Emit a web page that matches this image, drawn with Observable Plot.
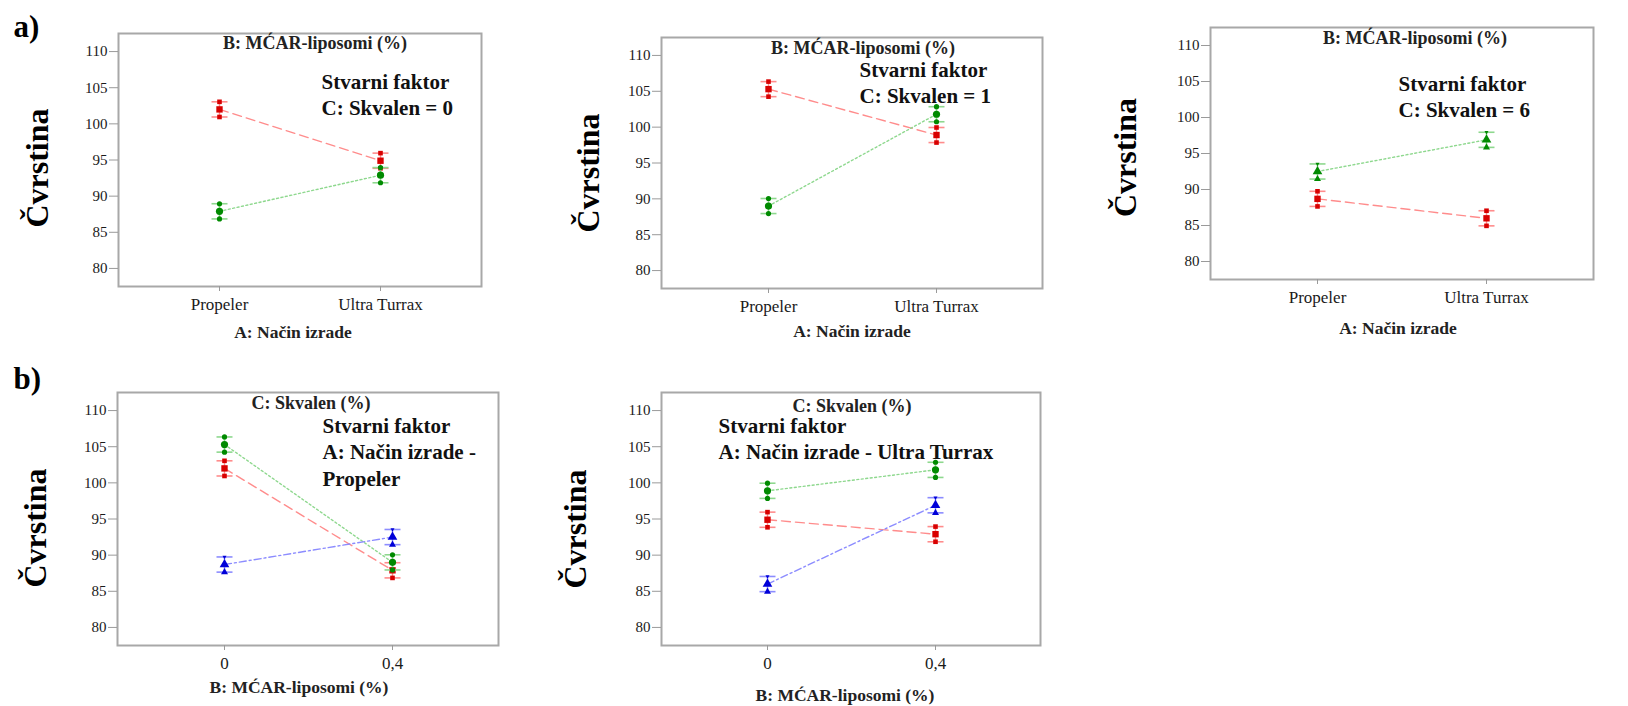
<!DOCTYPE html>
<html>
<head>
<meta charset="utf-8">
<script src="https://cdn.jsdelivr.net/npm/d3@7"></script>
<script src="https://cdn.jsdelivr.net/npm/@observablehq/plot@0.6"></script>
<style>
  html, body { margin: 0; padding: 0; background: #fff; }
  #root { position: relative; width: 1628px; height: 706px; overflow: hidden; background: #fff; }
  #root svg { position: absolute; overflow: visible; max-width: none; }
  #root svg, #root svg text { font-family: "Liberation Serif", "Times New Roman", Times, serif; }
</style>
</head>
<body>
<div id="root"></div>
<script>
// ---------- data ----------
const yTicks = [80, 85, 90, 95, 100, 105, 110];
const methodLabels = ["Propeler", "Ultra Turrax"];
const liposomeLabels = ["0", "0,4"];
const lsdHalf = 1.05;

// a) lines = B: MĆAR-liposomi 0 % (red) and 0,4 % (green), x = A: Način izrade
const a_C0_red   = [102.0, 94.9];
const a_C0_green = [87.9, 92.9];
const a_C1_red   = [105.3, 98.9];
const a_C1_green = [89.0, 101.8];
const a_C6_red   = [88.7, 86.0];
const a_C6_green = [92.5, 96.9];

// b) lines = C: Skvalen 0 (red), 1 (green), 6 (blue), x = B: MĆAR-liposomi
const b_Prop_red   = [102.0, 87.9];
const b_Prop_green = [105.3, 89.0];
const b_Prop_blue  = [88.7, 92.5];
const b_UT_red     = [94.9, 92.9];
const b_UT_green   = [98.9, 101.8];
const b_UT_blue    = [86.0, 96.9];

// ---------- styles ----------
const RED   = {dark: "#d80000", light: "#ff8c8c", dash: "9,5", symbol: "square"};
const GREEN = {dark: "#008a00", light: "#8ed88e", dash: "2,2.5", symbol: "circle"};
const BLUE  = {dark: "#0000d8", light: "#8c8cff", dash: "7,3,2,3", symbol: "triangle"};

const capSymbol = {draw(ctx) { ctx.moveTo(-8, 0); ctx.lineTo(8, 0); }};
const triDown = {draw(ctx, size) {
  const s = Math.sqrt(size / (Math.sqrt(3) * 0.75)) ;
  const h = s * Math.sqrt(3) / 2;
  ctx.moveTo(0, h * 2 / 3); ctx.lineTo(s / 2, -h / 3); ctx.lineTo(-s / 2, -h / 3); ctx.closePath();
}};

const FONT = "'Liberation Serif', 'Times New Roman', Times, serif";
const root = document.getElementById("root");

function panel(cfg) {
  const marks = [
    Plot.frame({stroke: "#a8a8a8", strokeWidth: 2}),
    Plot.axisY({ticks: yTicks, tickSize: 9, tickPadding: 2, stroke: "#9a9a9a", label: null, fontSize: 15}),
    Plot.axisX({tickSize: 5, tickPadding: 6, stroke: "#9a9a9a", label: null, fontSize: 17})
  ];
  for (const s of cfg.series) {
    const rows = s.values.map((v, i) => ({x: cfg.xDomain[i], y: v, lo: v - lsdHalf, hi: v + lsdHalf}));
    marks.push(Plot.line(rows, {x: "x", y: "y", stroke: s.style.light, strokeWidth: 1.4, strokeDasharray: s.style.dash}));
    marks.push(Plot.ruleX(rows, {x: "x", y1: "lo", y2: "hi", stroke: s.style.light, strokeWidth: 1.5}));
    marks.push(Plot.dot(rows, {x: "x", y: "lo", symbol: capSymbol, r: 4, fill: "none", stroke: s.style.light, strokeWidth: 1.6}));
    marks.push(Plot.dot(rows, {x: "x", y: "hi", symbol: capSymbol, r: 4, fill: "none", stroke: s.style.light, strokeWidth: 1.6}));
    const endSym = s.style.symbol;
    const topSym = s.style.symbol === "triangle" ? triDown : s.style.symbol;
    marks.push(Plot.dot(rows, {x: "x", y: "lo", symbol: endSym, r: 2.6, fill: s.style.dark, stroke: "none"}));
    marks.push(Plot.dot(rows, {x: "x", y: "hi", symbol: topSym, r: 2.6, fill: s.style.dark, stroke: "none"}));
    marks.push(Plot.dot(rows, {x: "x", y: "y", symbol: s.style.symbol, r: 3.6, fill: s.style.dark, stroke: "none"}));
  }
  // titles
  marks.push(Plot.text([cfg.title], {text: d => d, frameAnchor: "top", dx: cfg.titleDx, dy: cfg.titleDy,
    lineAnchor: "middle", fontSize: 18, fontWeight: "bold", fill: "#222", fontFamily: FONT}));
  cfg.notes.forEach((t, i) => marks.push(Plot.text([t], {text: d => d, frameAnchor: "top-left", textAnchor: "start",
    lineAnchor: "bottom", dx: cfg.notesDx, dy: cfg.notesDy[i], fontSize: 21, fontWeight: "bold", fill: "#111", fontFamily: FONT})));
  marks.push(Plot.text(["Čvrstina"], {text: d => d, frameAnchor: "left", rotate: -90, dx: cfg.yTitleDx, dy: cfg.yTitleDy,
    lineAnchor: "middle", textAnchor: "middle", fontSize: 32, fontWeight: "bold", fill: "#000", fontFamily: FONT}));
  marks.push(Plot.text([cfg.xTitle], {text: d => d, frameAnchor: "bottom", dx: cfg.xTitleDx, dy: cfg.xTitleDy,
    lineAnchor: "bottom", fontSize: 17.5, fontWeight: "bold", fill: "#222", fontFamily: FONT}));
  if (cfg.tag) marks.push(Plot.text([cfg.tag], {text: d => d, frameAnchor: "top-left", textAnchor: "start",
    lineAnchor: "bottom", dx: cfg.tagDx, dy: cfg.tagDy, fontSize: 31, fontWeight: "bold", fill: "#000", fontFamily: FONT}));

  const svg = Plot.plot({
    width: cfg.width, height: cfg.height,
    marginLeft: cfg.ml, marginTop: cfg.mt, marginRight: cfg.mr, marginBottom: cfg.mb,
    x: {type: "point", domain: cfg.xDomain, inset: cfg.inset, axis: null},
    y: {domain: [77.5, 112.5], axis: null},
    style: `font-family: ${FONT}; font-size: 15px; color: #1a1a1a; background: transparent;`,
    marks
  });
  svg.style.left = cfg.left + "px";
  svg.style.top = cfg.top + "px";
  root.appendChild(svg);
}

const titleA = "B: MĆAR-liposomi (%)";
const titleB = "C: Skvalen (%)";
const xTitleA = "A: Način izrade";
const xTitleB = "B: MĆAR-liposomi (%)";

panel({left: 0, top: 0, width: 500, height: 350, ml: 118, mt: 33, mr: 19, mb: 64, inset: 20,
  xDomain: methodLabels,
  series: [{values: a_C0_red, style: RED}, {values: a_C0_green, style: GREEN}],
  title: titleA, titleDx: 15, titleDy: 10,
  notes: ["Stvarni faktor", "C: Skvalen = 0"], notesDx: 203, notesDy: [55, 81],
  yTitleDx: -81, yTitleDy: 8, xTitle: xTitleA, xTitleDx: -7, xTitleDy: 51,
  tag: "a)", tagDx: -105, tagDy: 3});

panel({left: 540, top: 0, width: 520, height: 350, ml: 121, mt: 37, mr: 18, mb: 62, inset: 22,
  xDomain: methodLabels,
  series: [{values: a_C1_red, style: RED}, {values: a_C1_green, style: GREEN}],
  title: titleA, titleDx: 11, titleDy: 11,
  notes: ["Stvarni faktor", "C: Skvalen = 1"], notesDx: 198, notesDy: [39, 65],
  yTitleDx: -73, yTitleDy: 10, xTitle: xTitleA, xTitleDx: 0, xTitleDy: 48});

panel({left: 1090, top: 0, width: 538, height: 350, ml: 120, mt: 27, mr: 35, mb: 71, inset: 22,
  xDomain: methodLabels,
  series: [{values: a_C6_red, style: RED}, {values: a_C6_green, style: {...GREEN, symbol: "triangle"}}],
  title: titleA, titleDx: 13, titleDy: 11,
  notes: ["Stvarni faktor", "C: Skvalen = 6"], notesDx: 188, notesDy: [63, 89],
  yTitleDx: -85, yTitleDy: 4, xTitle: xTitleA, xTitleDx: -4, xTitleDy: 54});

panel({left: 0, top: 360, width: 540, height: 346, ml: 117, mt: 32, mr: 42, mb: 61, inset: 22,
  xDomain: liposomeLabels,
  series: [{values: b_Prop_red, style: RED}, {values: b_Prop_green, style: GREEN}, {values: b_Prop_blue, style: BLUE}],
  title: titleB, titleDx: 3, titleDy: 11,
  notes: ["Stvarni faktor", "A: Način izrade -", "Propeler"], notesDx: 205, notesDy: [40, 66, 93],
  yTitleDx: -82, yTitleDy: 9, xTitle: xTitleB, xTitleDx: -9, xTitleDy: 47,
  tag: "b)", tagDx: -104, tagDy: -4});

panel({left: 540, top: 360, width: 520, height: 346, ml: 121, mt: 32, mr: 20, mb: 61, inset: 21,
  xDomain: liposomeLabels,
  series: [{values: b_UT_red, style: RED}, {values: b_UT_green, style: GREEN}, {values: b_UT_blue, style: BLUE}],
  title: titleB, titleDx: 1, titleDy: 14,
  notes: ["Stvarni faktor", "A: Način izrade - Ultra Turrax"], notesDx: 57, notesDy: [40, 66],
  yTitleDx: -86, yTitleDy: 10, xTitle: xTitleB, xTitleDx: -6, xTitleDy: 55});
</script>
</body>
</html>
